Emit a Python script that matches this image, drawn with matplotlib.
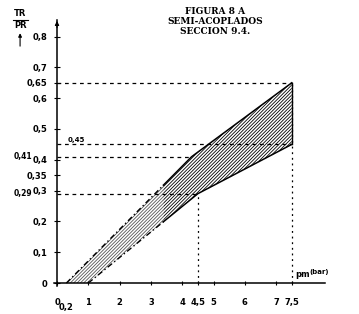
import numpy as np
import matplotlib
matplotlib.use("Agg")
import matplotlib.pyplot as plt

plt.rcParams['hatch.linewidth'] = 0.6

# data
upper_x = [0.3, 4.3, 7.5]
upper_y = [0.0, 0.41, 0.65]
lower_x = [1.0, 4.5, 7.5]
lower_y = [0.0, 0.29, 0.45]
split_x = 3.4
yticks = [0, 0.1, 0.2, 0.3, 0.35, 0.4, 0.5, 0.6, 0.65, 0.7, 0.8]
ytick_labels = ["0", "0,1", "0,2", "0,3", "0,35", "0,4", "0,5", "0,6", "0,65", "0,7", "0,8"]
xticks = [0, 1, 2, 3, 4, 4.5, 5, 6, 7, 7.5]
xtick_labels = ["0", "1", "2", "3", "4", "4,5", "5", "6", "7", "7,5"]
ref_levels = [0.65, 0.45, 0.41, 0.29]
ref_ends = [7.5, 7.5, 4.3, 4.5]
vlines_x = [4.5, 7.5]
vlines_top = [0.29, 0.65]

fig = plt.figure(figsize=(3.59, 3.14), dpi=100)
ax = fig.add_axes([0.1152, 0.0006, 0.8283, 0.981])
ax.set_xlim(-0.5, 9.0)
ax.set_ylim(-0.1, 0.9)

for s in ['top', 'right']:
    ax.spines[s].set_visible(False)
ax.spines['left'].set_position(('data', 0))
ax.spines['bottom'].set_position(('data', 0))
ax.spines['left'].set_bounds(-0.01, 0.855)
ax.spines['bottom'].set_bounds(-0.1, 8.55)
ax.spines['left'].set_linewidth(1.1)
ax.spines['bottom'].set_linewidth(1.1)

fkw = dict(fontsize=6, fontweight='bold', family='DejaVu Sans')
ax.set_yticks(yticks)
ax.set_yticklabels(ytick_labels, **fkw)
ax.set_xticks(xticks)
ax.set_xticklabels(xtick_labels, **fkw)
ax.tick_params(axis='y', direction='inout', length=4, width=0.8, pad=5)
ax.tick_params(axis='x', direction='inout', length=3, width=0.8, pad=9)

# band
xs = np.array(sorted(set(upper_x + lower_x + [split_x])))
up = np.interp(xs, upper_x, upper_y, left=0)
lo = np.interp(xs, lower_x, lower_y, left=0)
ax.fill_between(xs, lo, up, where=xs <= split_x, interpolate=False,
                facecolor='none', edgecolor='#555555', hatch='//////////', linewidth=0)
ax.fill_between(xs, lo, up, where=xs >= split_x, interpolate=False,
                facecolor='none', edgecolor='black', hatch='//////////', linewidth=0)

# band edges
ul = [upper_x[0], split_x]
ax.plot(ul, np.interp(ul, upper_x, upper_y), color='black', lw=1.0, ls=(0, (4, 2, 1, 2)))
ur = [split_x] + [x for x in upper_x if x > split_x]
ax.plot(ur, np.interp(ur, upper_x, upper_y), color='black', lw=1.1)
ll = [lower_x[0], split_x]
ax.plot(ll, np.interp(ll, lower_x, lower_y), color='black', lw=1.0, ls=(0, (4, 2, 1, 2)))
lr = [split_x] + [x for x in lower_x if x > split_x]
ax.plot(lr, np.interp(lr, lower_x, lower_y), color='black', lw=1.1)
ax.plot([upper_x[-1], lower_x[-1]], [upper_y[-1], lower_y[-1]], color='black', lw=1.0)

# reference lines
for lv, xe in zip(ref_levels, ref_ends):
    ax.plot([0, xe], [lv, lv], color='black', lw=0.9, ls=(0, (3, 3)))
for xv, yt in zip(vlines_x, vlines_top):
    ax.plot([xv, xv], [0, yt], color='black', lw=0.9, ls=(0, (1.5, 3)))

# axis arrow
ax.annotate('', xy=(0, 0.86), xytext=(0, 0.82),
            arrowprops=dict(arrowstyle='-|>', color='black', lw=0.8, mutation_scale=6))

# extra labels
ax.text(-1.08, 0.41, "0,41", ha='center', va='center', fontsize=5.5, fontweight='bold')
ax.text(-1.08, 0.29, "0,29", ha='center', va='center', fontsize=5.5, fontweight='bold')
ax.text(0.35, 0.453, "0,45", ha='left', va='bottom', fontsize=5, fontweight='bold')
ax.text(0.3, -0.08, "0,2", ha='center', va='center', **fkw)
ax.text(7.6, 0.012, "pm", ha='left', va='bottom', **fkw)
ax.text(8.05, 0.025, "(bar)", ha='left', va='bottom', fontsize=5, fontweight='bold')

# y label
ax.text(-1.18, 0.875, "TR", ha='center', va='center', clip_on=False, **fkw)
ax.plot([-1.42, -0.94], [0.855, 0.855], color='black', lw=0.8, clip_on=False)
ax.text(-1.18, 0.835, "PR", ha='center', va='center', clip_on=False, **fkw)
ax.annotate('', xy=(-1.18, 0.82), xytext=(-1.18, 0.76),
            arrowprops=dict(arrowstyle='-|>', color='black', lw=0.8, mutation_scale=5),
            annotation_clip=False)

# title
tkw = dict(ha='center', va='center', fontsize=6.5, fontweight='bold', family='DejaVu Serif')
fig.text(215 / 359, 1 - 11 / 314, "FIGURA 8 A", **tkw)
fig.text(215 / 359, 1 - 21 / 314, "SEMI-ACOPLADOS", **tkw)
fig.text(215 / 359, 1 - 31 / 314, "SECCION 9.4.", **tkw)

fig.savefig("out.png", dpi=100)
